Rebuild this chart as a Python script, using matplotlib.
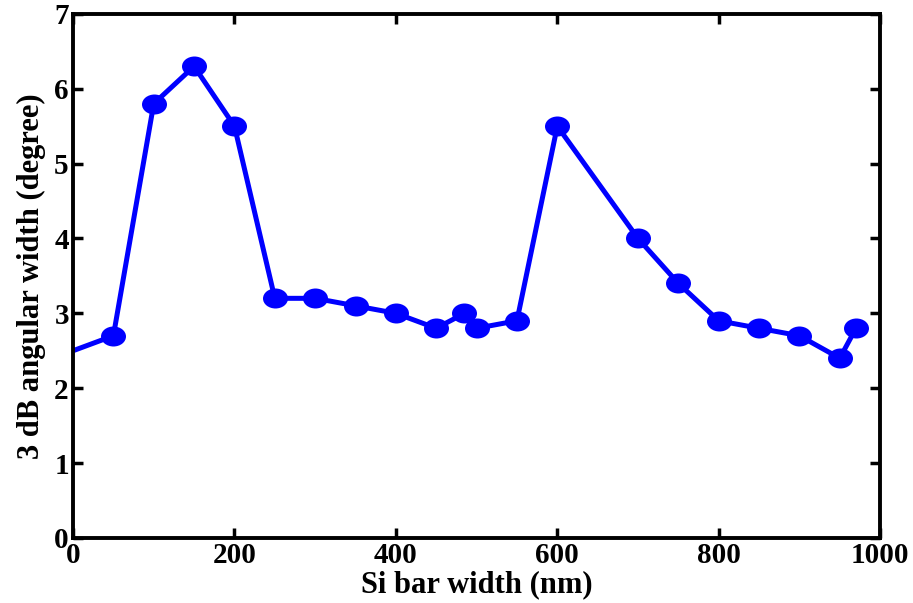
import matplotlib
matplotlib.use("Agg")
import matplotlib.pyplot as plt
from matplotlib.path import Path

# data
width_nm = [0, 50, 100, 150, 200, 250, 300, 350, 400, 450, 485, 500,
            550, 600, 700, 750, 800, 850, 900, 950, 970]
angle_deg = [2.5, 2.7, 5.8, 6.3, 5.5, 3.2, 3.2, 3.1, 3.0, 2.8, 3.0, 2.8,
             2.9, 5.5, 4.0, 3.4, 2.9, 2.8, 2.7, 2.4, 2.8]
x_ticks = [0, 200, 400, 600, 800, 1000]
y_ticks = [0, 1, 2, 3, 4, 5, 6, 7]

plt.rcParams['font.family'] = ['Liberation Serif', 'DejaVu Serif']
plt.rcParams['font.weight'] = 'bold'

# slightly flattened dot, the original image is stretched sideways
circ = Path.unit_circle()
ellipse = Path(circ.vertices * [1.0, 0.8], circ.codes)

fig = plt.figure(figsize=(9.13, 6.03), dpi=100)
ax = fig.add_axes([0.080, 0.108, 0.884, 0.869])

# first point has no marker in the original
ax.plot(width_nm, angle_deg, '-', color='#0000ff', lw=3.6)
ax.plot(width_nm[1:], angle_deg[1:], ls='none', marker=ellipse,
        color='#0000ff', ms=18, markeredgewidth=0)

ax.set_xlim(0, 1000)
ax.set_ylim(0, 7)
ax.set_xticks(x_ticks)
ax.set_yticks(y_ticks)
ax.tick_params(direction='in', length=7, width=2.5, labelsize=21,
               top=True, right=True, pad=3)
for s in ax.spines.values():
    s.set_linewidth(2.8)
for lab in ax.get_xticklabels() + ax.get_yticklabels():
    lab.set_fontweight('bold')

ax.set_xlabel("Si bar width (nm)", fontsize=22, fontweight='bold', labelpad=1)
ax.set_ylabel("3 dB angular width (degree)", fontsize=22, fontweight='bold',
              labelpad=6)

fig.savefig("out.png", dpi=100)
